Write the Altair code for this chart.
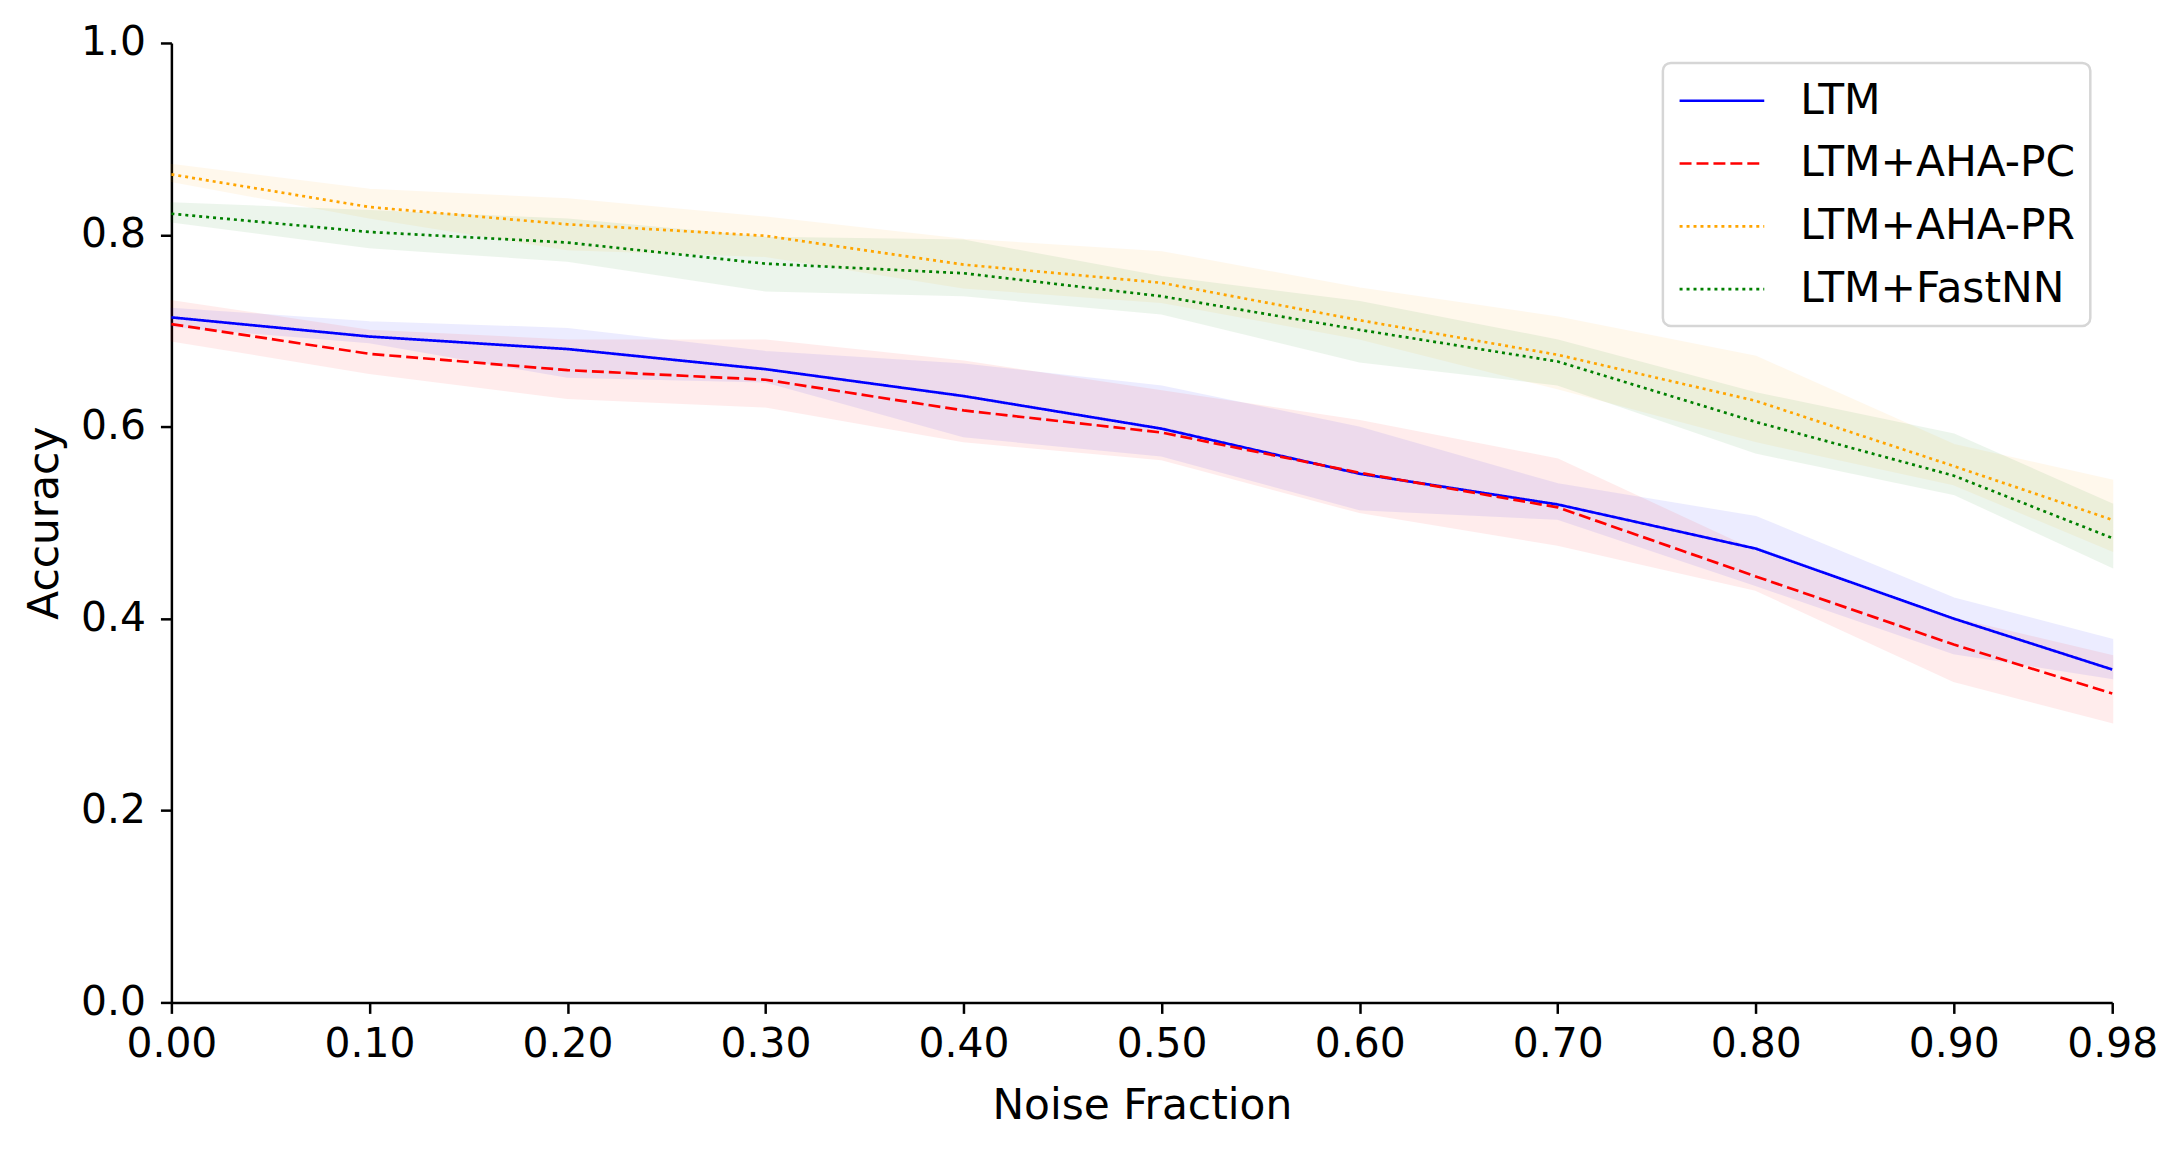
import altair as alt
import pandas as pd

noise = [0.0, 0.1, 0.2, 0.3, 0.4, 0.5, 0.6, 0.7, 0.8, 0.9, 0.98]
series_names = ["LTM", "LTM+AHA-PC", "LTM+AHA-PR", "LTM+FastNN"]
series_colors = ["#0000ff", "#ff0000", "#ffa500", "#008000"]
series_dashes = [[1, 0], [12, 5], [3, 4], [3, 4]]

ltm_mean = [0.714, 0.694, 0.681, 0.660, 0.632, 0.598, 0.551, 0.519, 0.473, 0.400, 0.347]
ltm_hi = [0.723, 0.709, 0.702, 0.678, 0.665, 0.642, 0.599, 0.540, 0.506, 0.421, 0.378]
ltm_lo = [0.705, 0.688, 0.652, 0.647, 0.590, 0.570, 0.514, 0.504, 0.435, 0.364, 0.338]

pc_mean = [0.707, 0.676, 0.659, 0.649, 0.617, 0.594, 0.552, 0.516, 0.444, 0.373, 0.322]
pc_hi = [0.731, 0.700, 0.690, 0.690, 0.668, 0.637, 0.606, 0.566, 0.470, 0.400, 0.361]
pc_lo = [0.690, 0.656, 0.630, 0.621, 0.585, 0.566, 0.511, 0.477, 0.430, 0.335, 0.292]

pr_mean = [0.863, 0.829, 0.811, 0.799, 0.769, 0.750, 0.711, 0.675, 0.627, 0.559, 0.503]
pr_hi = [0.873, 0.847, 0.837, 0.818, 0.795, 0.782, 0.744, 0.714, 0.673, 0.581, 0.544]
pr_lo = [0.856, 0.818, 0.785, 0.778, 0.745, 0.730, 0.692, 0.640, 0.585, 0.540, 0.471]

fnn_mean = [0.822, 0.803, 0.792, 0.770, 0.760, 0.736, 0.701, 0.668, 0.605, 0.549, 0.484]
fnn_hi = [0.833, 0.825, 0.816, 0.797, 0.794, 0.756, 0.730, 0.690, 0.635, 0.592, 0.519]
fnn_lo = [0.814, 0.787, 0.773, 0.742, 0.737, 0.718, 0.668, 0.644, 0.573, 0.530, 0.454]

x_ticks = [0.0, 0.1, 0.2, 0.3, 0.4, 0.5, 0.6, 0.7, 0.8, 0.9, 0.98]
y_ticks = [0.0, 0.2, 0.4, 0.6, 0.8, 1.0]

rows = []
for name, m, lo, hi in zip(series_names,
                           [ltm_mean, pc_mean, pr_mean, fnn_mean],
                           [ltm_lo, pc_lo, pr_lo, fnn_lo],
                           [ltm_hi, pc_hi, pr_hi, fnn_hi]):
    for xv, mv, lv, hv in zip(noise, m, lo, hi):
        rows.append({"noise": xv, "series": name, "band": name + " band",
                     "mean": mv, "lo": lv, "hi": hv})
df = pd.DataFrame(rows)
band_names = [n + " band" for n in series_names]

FONT = "DejaVu Sans"

xenc = alt.X("noise:Q", scale=alt.Scale(domain=[0, 0.98], nice=False, zero=False),
             axis=alt.Axis(values=x_ticks, format=".2f", title="Noise Fraction",
                           labelPadding=11, labelFlush=False, titleY=104,
                           titleBaseline="middle"))
yscale = alt.Scale(domain=[0, 1], nice=False)

bands = alt.Chart(df).mark_area(opacity=0.07, strokeWidth=2).encode(
    x=xenc,
    y=alt.Y("lo:Q", scale=yscale),
    y2="hi:Q",
    fill=alt.Fill("band:N", scale=alt.Scale(domain=band_names, range=series_colors), legend=None),
    stroke=alt.Stroke("band:N", scale=alt.Scale(domain=band_names, range=series_colors), legend=None),
    detail="band:N",
)

# legend symbol: a horizontal line 4x the symbol radius long, starting at the symbol's left edge
leg = alt.Legend(title=None, orient="none", legendX=1497, legendY=20,
                 symbolType="M-1,0H3", symbolSize=1806, symbolStrokeWidth=2.7,
                 labelOffset=77, rowPadding=18, padding=15, labelLimit=0)

lines = alt.Chart(df).mark_line(strokeWidth=2.7).encode(
    x=xenc,
    y=alt.Y("mean:Q", scale=yscale,
            axis=alt.Axis(values=y_ticks, format=".1f", title="Accuracy",
                          labelPadding=15, labelFlush=False, titleX=-127, titleY=481.5,
                          titleBaseline="middle", titleAlign="center", titleAngle=270)),
    color=alt.Color("series:N", scale=alt.Scale(domain=series_names, range=series_colors),
                    legend=leg),
    strokeDash=alt.StrokeDash("series:N", scale=alt.Scale(domain=series_names, range=series_dashes),
                              legend=leg),
)

chart = alt.layer(bands, lines).properties(
    width=1948, height=963,
    padding={"left": 164, "top": 33, "right": 60, "bottom": 140},
    autosize=alt.AutoSizeParams(type="none"),
    background="white",
).configure_view(stroke=None).configure_axis(
    grid=False,
    domainColor="black", domainWidth=2.5,
    tickColor="black", tickWidth=2.5, tickSize=11,
    labelColor="black", labelFont=FONT, labelFontSize=41,
    titleColor="black", titleFont=FONT, titleFontSize=42.5, titleFontWeight="normal",
).configure_legend(
    labelFont=FONT, labelFontSize=42.5, labelColor="black",
    fillColor="white", strokeColor="#d6d6d6", cornerRadius=8, strokeWidth=2.5,
)

chart.save("out.html", embed_options={"renderer": "svg", "actions": False})
